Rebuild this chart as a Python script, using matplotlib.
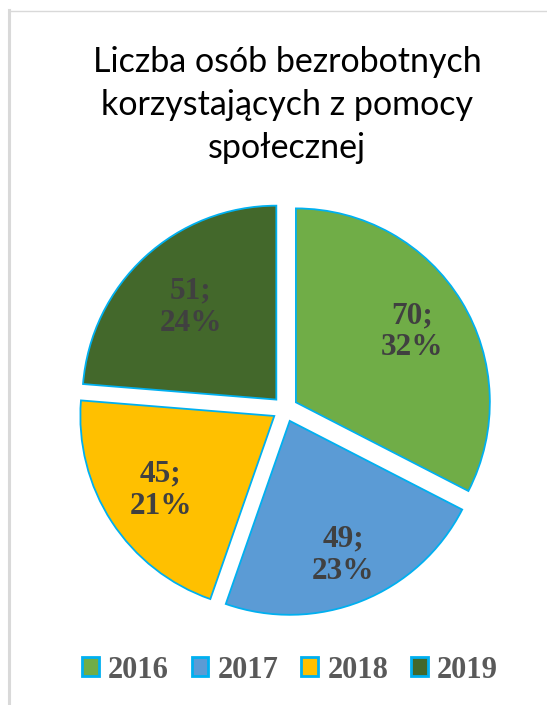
import numpy as np
import matplotlib
matplotlib.use("Agg")
import matplotlib.pyplot as plt
from matplotlib.lines import Line2D

# Data
years = ["2016", "2017", "2018", "2019"]
counts = [70, 49, 45, 51]
percents = [32, 23, 21, 24]  # as printed on the chart
colors = ["#70AD47", "#5B9BD5", "#FFC000", "#43682B"]
label_dist = [0.70, 0.745, 0.70, 0.65]  # per slice, Excel "best fit"

title = "Liczba osób bezrobotnych\nkorzystających z pomocy\nspołecznej"

W, H = 547, 705
fig = plt.figure(figsize=(W / 100, H / 100), dpi=100)
fig.patch.set_facecolor("white")

# frame lines of the original screenshot
fig.add_artist(Line2D([9 / W, 9 / W], [0, 1 - 10 / H], color="#D9D9D9", lw=2.2))
fig.add_artist(Line2D([10 / W, 1], [1 - 11 / H, 1 - 11 / H], color="#D9D9D9", lw=1.0))

# pie axes: centre (285, 409) px, radius 202 px
R = 202
L = 1.2
cx, cy = 285, 409
side = 2 * L * R
ax = fig.add_axes([(cx - side / 2) / W, (H - cy - side / 2) / H, side / W, side / H])
ax.set_xlim(-L, L)
ax.set_ylim(-L, L)
ax.set_aspect("equal")
ax.axis("off")

explode = [0.066] * len(counts)
wedges, _ = ax.pie(counts, colors=colors, startangle=90, counterclock=False,
                   explode=explode, radius=1.0,
                   wedgeprops=dict(edgecolor="#00B0F0", linewidth=1.3))

for w, c, p, d, e in zip(wedges, counts, percents, label_dist, explode):
    ang = np.deg2rad((w.theta1 + w.theta2) / 2)
    r = d + e
    ax.text(r * np.cos(ang), r * np.sin(ang), f"{c};\n{p}%",
            ha="center", va="center", fontsize=22.5, fontweight="bold",
            family="Liberation Serif", color="#404040", linespacing=1.15)

fig.text(287 / W, 1 - 105 / H, title, ha="center", va="center",
         fontsize=24.5, family="Lato", color="black", linespacing=1.42)

leg = fig.legend(wedges, years, loc="center", bbox_to_anchor=(290 / W, 1 - 670 / H),
                 ncol=4, frameon=False, handlelength=0.55, handleheight=0.55,
                 handletextpad=0.3, columnspacing=0.75, borderaxespad=0,
                 prop=dict(family="Liberation Serif", weight="bold", size=22))
for t, h in zip(leg.get_texts(), leg.legend_handles):
    t.set_color("#595959")
    h.set_linewidth(2.0)

fig.savefig("out.png", dpi=100, facecolor="white")
